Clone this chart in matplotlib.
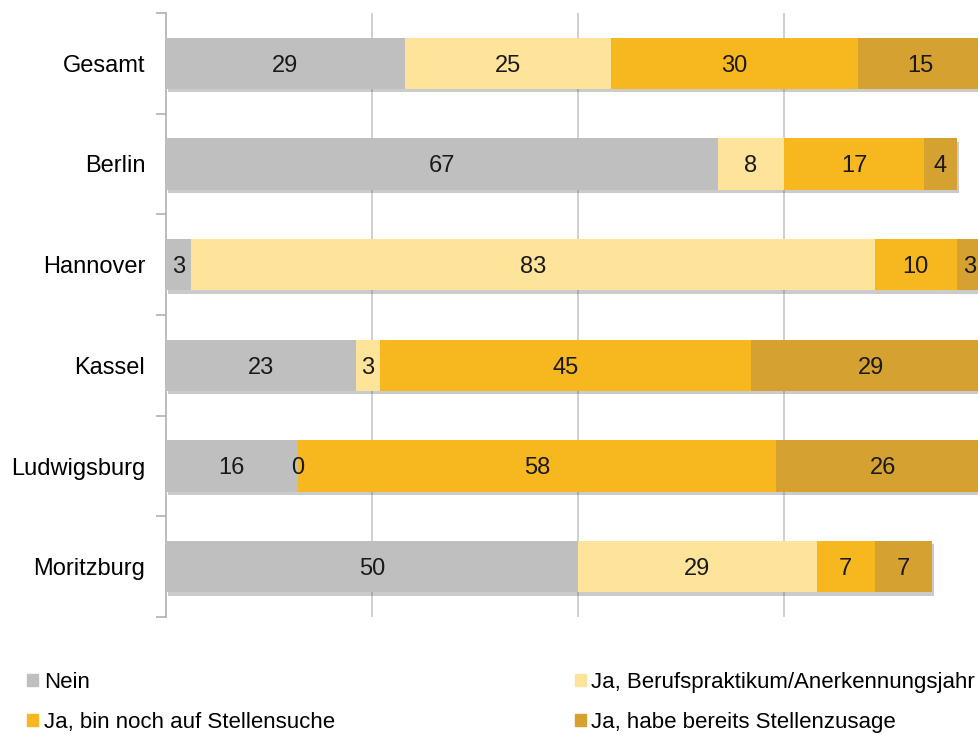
import numpy as np
import matplotlib.pyplot as plt
import matplotlib.patheffects as pe
from matplotlib.patches import Patch

plt.rcParams['font.family'] = ['Liberation Sans', 'DejaVu Sans']

# Anteile in Prozent je Standort
standorte = ['Gesamt', 'Berlin', 'Hannover', 'Kassel', 'Ludwigsburg', 'Moritzburg']
nein = [29, 67, 3, 23, 16, 50]
praktikum = [25, 8, 83, 3, 0, 29]
suche = [30, 17, 10, 45, 58, 7]
zusage = [15, 4, 3, 29, 26, 7]

serien = ['Nein', 'Ja, Berufspraktikum/Anerkennungsjahr',
          'Ja, bin noch auf Stellensuche', 'Ja, habe bereits Stellenzusage']
farben = ['#bfbfbf', '#fee39a', '#f7b71f', '#d5a131']

fig = plt.figure(figsize=(9.79, 7.34), dpi=100)
ax = fig.add_axes([166 / 979, 1 - 617 / 734, 824 / 979, 604 / 734])

y = np.arange(len(standorte))
links = np.zeros(len(standorte))
shadow = [pe.SimplePatchShadow(offset=(1.5, -2.5), shadow_rgbFace='#555555', alpha=0.3), pe.Normal()]
for werte, farbe in zip([nein, praktikum, suche, zusage], farben):
    werte = np.array(werte, dtype=float)
    bars = ax.barh(y, werte, left=links, height=0.51, color=farbe, zorder=3)
    for b in bars:
        b.set_path_effects(shadow)
    for yi, l, w in zip(y, links, werte):
        ax.text(l + w / 2, yi, f'{int(w)}', ha='center', va='center_baseline',
                fontsize=17, color='#1a1a1a', zorder=5)
    links += werte

ax.set_xlim(0, 100)
ax.set_ylim(len(standorte) - 0.5, -0.5)
ax.set_xticks([25, 50, 75])
ax.set_xticklabels([])
ax.tick_params(axis='x', length=0)
ax.grid(axis='x', color='#c8c8c8', linewidth=1.2, zorder=0)

ax.set_yticks(np.arange(-0.5, len(standorte), 1.0))
ax.set_yticklabels([])
ax.set_yticks(y, minor=True)
ax.set_yticklabels(standorte, minor=True, fontsize=17)
ax.tick_params(axis='y', which='major', length=7, color='#b0b0b0', width=1.2)
ax.tick_params(axis='y', which='minor', length=0, pad=15)

for s in ['top', 'right', 'bottom']:
    ax.spines[s].set_visible(False)
ax.spines['left'].set_color('#b0b0b0')
ax.spines['left'].set_linewidth(1.2)

handles = [Patch(color=farben[i]) for i in [0, 2, 1, 3]]
labels = [serien[i] for i in [0, 2, 1, 3]]
fig.legend(handles, labels, ncol=2, loc='upper left', bbox_to_anchor=(7 / 979, 1 - 652 / 734),
           frameon=False, fontsize=16, handlelength=0.5, handleheight=0.5,
           handletextpad=0.25, columnspacing=10.8, labelspacing=0.85)

fig.savefig('out.png', dpi=100)
